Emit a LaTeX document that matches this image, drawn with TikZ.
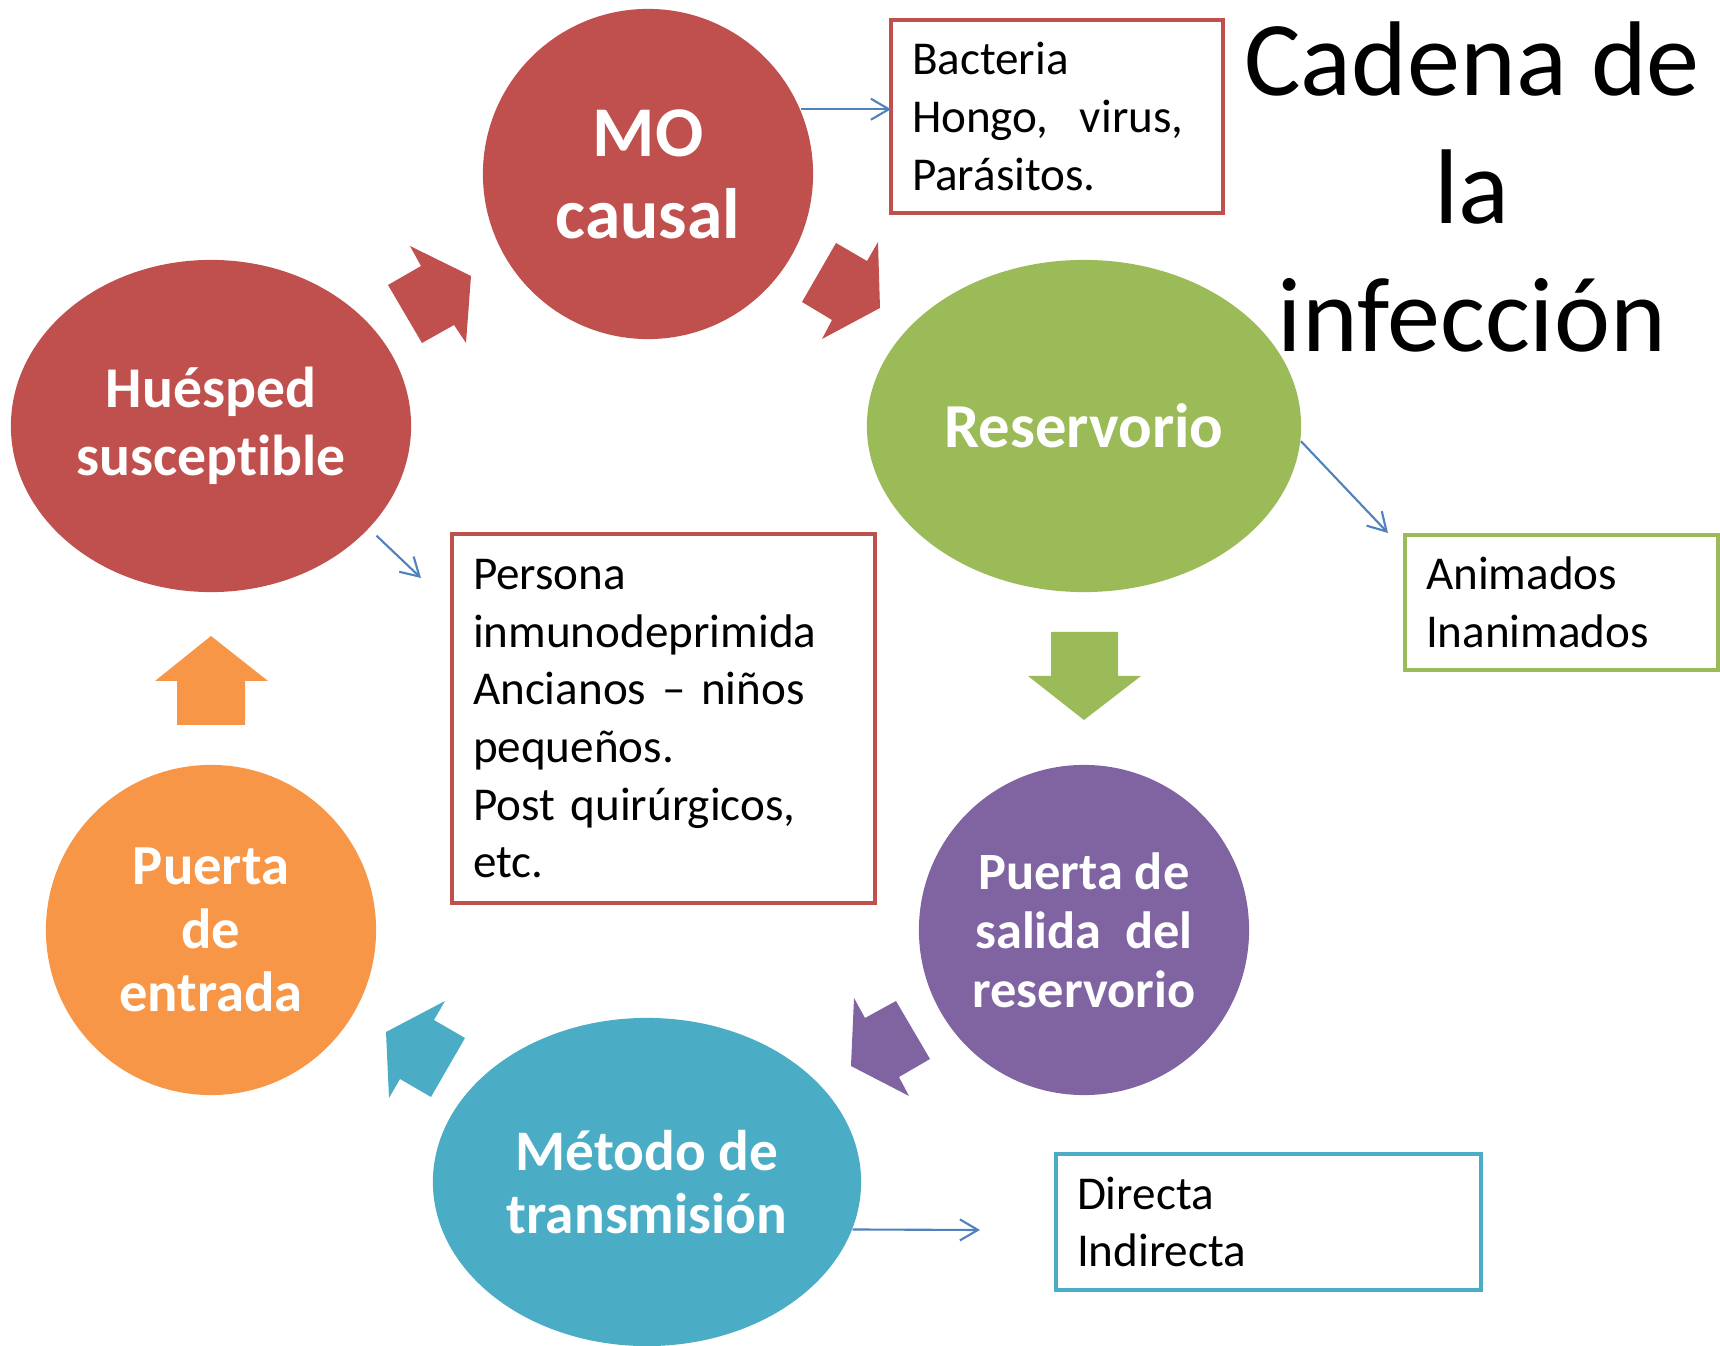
\documentclass[tikz,border=0pt]{standalone}
\usepackage{fontspec}
\setmainfont{Carlito}[Ligatures=NoCommon]
\usetikzlibrary{shapes.geometric,arrows.meta}
\definecolor{redMO}{HTML}{C0504D}
\definecolor{greenRes}{HTML}{9BBB59}
\definecolor{violetSal}{HTML}{8064A2}
\definecolor{tealTra}{HTML}{4BACC6}
\definecolor{orangeEnt}{HTML}{F79646}
\definecolor{blueLink}{HTML}{4F81BD}
\begin{document}
\begin{tikzpicture}[x=0.01cm,y=-0.01cm,
  phase/.style={ellipse,inner sep=0pt,text=white,align=center},
  notebox/.style={draw,line width=1.15pt,fill=white,anchor=north west,outer sep=0pt,align=left,inner xsep=0.21cm,inner ysep=0pt,font=\fontsize{13.4pt}{16.4pt}\selectfont},
  link/.style={draw=blueLink,line width=0.6pt,-{Straight Barb[length=1.8mm,width=2.1mm]}}]
\useasboundingbox (0,0) rectangle (1720,1346);
% the six links of the chain
\node[phase,fill=redMO,minimum width=3.30cm,minimum height=3.30cm,font=\bfseries\fontsize{20.3pt}{23.3pt}\selectfont] (mo) at (648,174) {MO\\causal};
\node[phase,fill=greenRes,minimum width=4.34cm,minimum height=3.32cm,font=\bfseries\fontsize{17.8pt}{20pt}\selectfont] (res) at (1084,426) {Reservorio};
\node[phase,fill=violetSal,minimum width=3.30cm,minimum height=3.30cm,font=\bfseries\fontsize{14.9pt}{16.8pt}\selectfont] (sal) at (1084,930) {Puerta de\\salida~ del\\reservorio};
\node[phase,fill=tealTra,minimum width=4.28cm,minimum height=3.28cm,font=\bfseries\fontsize{16.3pt}{17.9pt}\selectfont] (tra) at (647,1182) {Método de\\transmisión};
\node[phase,fill=orangeEnt,minimum width=3.30cm,minimum height=3.30cm,font=\bfseries\fontsize{16.1pt}{18.1pt}\selectfont] (ent) at (211,930) {Puerta\\de\\entrada};
\node[phase,fill=redMO,minimum width=4.00cm,minimum height=3.32cm,font=\bfseries\fontsize{16.4pt}{19.3pt}\selectfont] (hue) at (211,426) {Huésped\\susceptible};
% block arrows between them
\fill[redMO] (388,285) -- (421,266) -- (410,246) -- (471,276) -- (466,343) -- (454,325) -- (422,343) -- cycle;
\fill[redMO] (836,243) -- (867,261) -- (878,242) -- (880,308) -- (822,339) -- (832,320) -- (802,302) -- cycle;
\fill[greenRes] (1051,632) -- (1118,632) -- (1118,676) -- (1141,676) -- (1084,720) -- (1028,676) -- (1051,676) -- cycle;
\fill[violetSal] (896,1001) -- (930,1059) -- (899,1077) -- (909,1096) -- (851,1066) -- (854,998) -- (865,1018) -- cycle;
\fill[tealTra] (465,1038) -- (431,1097) -- (400,1079) -- (389,1098) -- (386,1032) -- (445,1001) -- (434,1020) -- cycle;
\fill[orangeEnt] (177,725) -- (245,725) -- (245,681) -- (268,681) -- (211,636) -- (155,681) -- (177,681) -- cycle;
% notes
\node[notebox,draw=redMO,text width=2.90cm,minimum height=1.93cm] (bact) at (891,20) {Bacteria\\Hongo,~ virus,\\Parásitos.};
\node[notebox,draw=redMO,text width=3.81cm,minimum height=3.69cm] (pers) at (452,534) {Persona\\inmunodeprimida\\Ancianos – niños\\pequeños.\\Post quirúrgicos,\\etc.};
\node[notebox,draw=greenRes,text width=2.71cm,minimum height=1.35cm] (anim) at (1405,535) {Animados\\Inanimados};
\node[notebox,draw=tealTra,text width=3.83cm,minimum height=1.36cm] (dir) at (1056,1154) {Directa\\Indirecta};
\node[align=center,font=\fontsize{30.2pt}{36.4pt}\selectfont] (title) at (1472,187) {Cadena de\\la\\infección};
\coordinate (animtip) at (1388,533);
\coordinate (perstip) at (421,578);
\coordinate (dirtip) at (980,1230);
\draw[link] (mo.23) -- (mo.23 -| bact.west);
\draw[link] (res.-4.5) -- (animtip);
\draw[link,shorten <=1mm] (hue.-33) -- (perstip);
\draw[link] (tra.-13.2) -- (dirtip);
\end{tikzpicture}
\end{document}
